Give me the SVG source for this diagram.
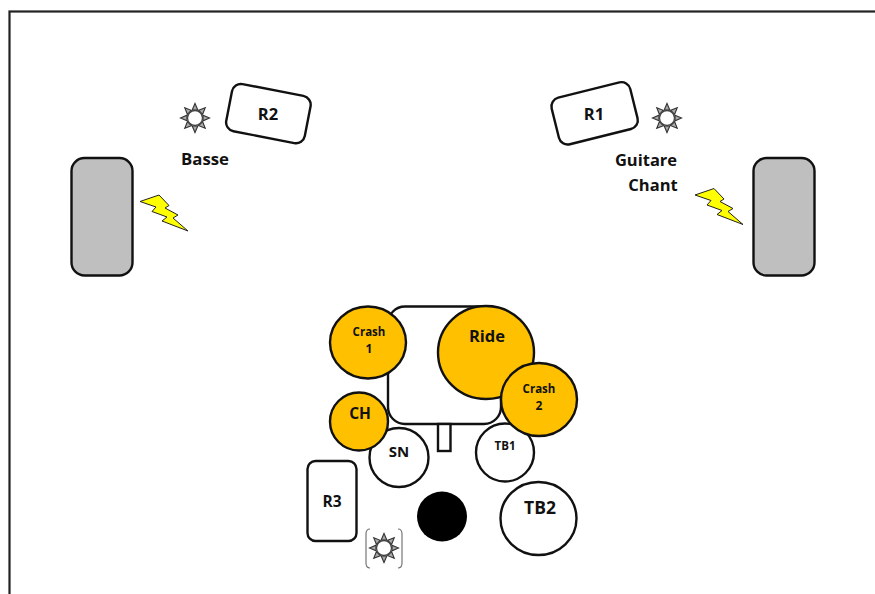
<svg xmlns="http://www.w3.org/2000/svg" width="875" height="594" viewBox="0 0 875 594">
<style>
.s{stroke:#111;stroke-width:2.4;fill:#fff}
.o{fill:#ffc000}
.g{fill:#bfbfbf}
.t{font-family:"Open Sans","DejaVu Sans",sans-serif;font-weight:700;fill:#111;text-anchor:middle}
.b{fill:#ffff00;stroke:#222;stroke-width:1}
</style>
<defs>
<g id="sun">
<g fill="#aaa" stroke="#333" stroke-width="1.100">
<path id="sp" d="M-2.800-8L0-14.500L2.800-8Z"/>
<use href="#sp" transform="rotate(45)"/><use href="#sp" transform="rotate(90)"/><use href="#sp" transform="rotate(135)"/><use href="#sp" transform="rotate(180)"/><use href="#sp" transform="rotate(225)"/><use href="#sp" transform="rotate(270)"/><use href="#sp" transform="rotate(315)"/>
</g>
<circle r="7.500" fill="#fff" stroke="#444" stroke-width="1.300"/>
</g>
<path id="bolt" d="M0 0L19-6.500L29 4L25 6.500L38 13.500L33 16.500L48 29.500L22 19.500L27 15.500L12 10L16 5.500Z"/>
</defs>
<rect id="stage" x="9.500" y="11.500" width="900" height="700" fill="#fff" stroke="#222" stroke-width="2.200"/>
<g id="amp-left"><rect class="s g" x="71.500" y="158" width="61" height="117.500" rx="13"/></g>
<g id="amp-right"><rect class="s g" x="753.500" y="158" width="61" height="117.500" rx="13"/></g>
<g id="r2"><rect class="s" x="228.500" y="89.500" width="80" height="48" rx="9" transform="rotate(11 268 113)"/><text class="t" x="268" y="119.500" font-size="16.500">R2</text></g>
<g id="r1"><rect class="s" x="554" y="89.500" width="81" height="48" rx="9" transform="rotate(-14 594 113)"/><text class="t" x="594" y="119.500" font-size="16.500">R1</text></g>
<g id="sun-basse"><use href="#sun" x="195" y="118"/></g>
<g id="sun-guitare"><use href="#sun" x="667" y="118"/></g>
<text class="t" x="205" y="165" font-size="16.800">Basse</text>
<text class="t" x="646" y="166" font-size="16.500">Guitare</text>
<text class="t" x="653" y="191" font-size="16.500">Chant</text>
<g id="bolt-left"><use href="#bolt" class="b" x="140" y="201.500"/></g>
<g id="bolt-right"><use href="#bolt" class="b" x="695" y="195"/></g>
<g id="riser"><rect class="s" x="388" y="306.500" width="113" height="117.500" rx="17"/></g>
<g id="pedal"><rect class="s" x="438" y="424" width="12.500" height="27"/></g>
<g id="sn"><circle class="s" cx="399" cy="457.500" r="29.500"/><text class="t" x="399" y="457" font-size="15">SN</text></g>
<g id="tb1"><circle class="s" cx="505" cy="452.500" r="29"/><text class="t" x="505" y="450" font-size="11.500">TB1</text></g>
<g id="crash1"><ellipse class="s o" cx="368" cy="342.500" rx="38" ry="36"/><text class="t" x="369" y="336" font-size="11.500">Crash</text><text class="t" x="369" y="353" font-size="12">1</text></g>
<g id="ride"><ellipse class="s o" cx="486" cy="352.500" rx="48" ry="46.500"/><text class="t" x="487" y="342" font-size="16.500">Ride</text></g>
<g id="crash2"><ellipse class="s o" cx="539" cy="399.500" rx="38" ry="36.500"/><text class="t" x="539" y="393" font-size="11.500">Crash</text><text class="t" x="539" y="410" font-size="12">2</text></g>
<g id="ch"><circle class="s o" cx="359" cy="421.500" r="29"/><text class="t" x="360" y="419" font-size="15.500">CH</text></g>
<g id="r3"><rect class="s" x="307.500" y="461" width="49" height="80" rx="8"/><text class="t" x="332" y="507" font-size="15.500">R3</text></g>
<g id="kick"><circle cx="442" cy="516.500" r="25" fill="#000"/></g>
<g id="tb2"><ellipse class="s" cx="538.500" cy="518.500" rx="38" ry="36.500"/><text class="t" x="540" y="514" font-size="17.500">TB2</text></g>
<g id="sun-drums"><use href="#sun" x="384" y="548"/>
<path d="M370 529Q366 529 366 534V563Q366 568 370 568M398 529Q402 529 402 534V563Q402 568 398 568" fill="none" stroke="#777" stroke-width="1.200"/></g>
</svg>
